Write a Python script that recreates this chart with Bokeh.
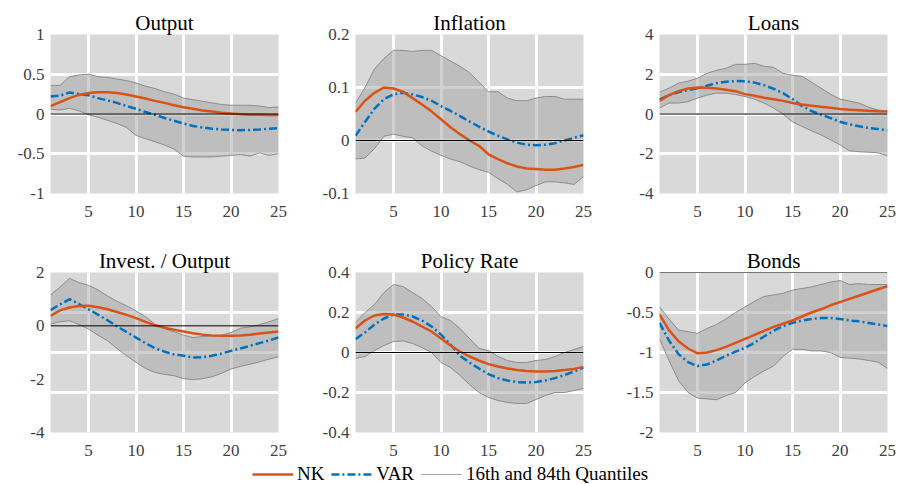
from bokeh.plotting import figure
from bokeh.models import FixedTicker, Span, Legend, LegendItem, Range1d
from bokeh.layouts import column, row
from bokeh.embed import file_html
from bokeh.resources import INLINE

# ---------------- data ----------------
horizon = list(range(1, 26))

titles = ["Output", "Inflation", "Loans", "Invest. / Output", "Policy Rate", "Bonds"]

nk_output = [0.10, 0.15, 0.20, 0.24, 0.265, 0.275, 0.275, 0.265, 0.245, 0.22, 0.195, 0.165, 0.14,
             0.11, 0.085, 0.065, 0.045, 0.03, 0.015, 0.005, -0.003, -0.008, -0.01, -0.012, -0.012]
var_output = [0.22, 0.23, 0.27, 0.25, 0.235, 0.20, 0.17, 0.14, 0.10, 0.065, 0.025, -0.01, -0.05,
              -0.085, -0.12, -0.15, -0.17, -0.185, -0.195, -0.20, -0.205, -0.20, -0.195, -0.185, -0.18]
hi_output = [0.36, 0.36, 0.47, 0.49, 0.50, 0.47, 0.46, 0.44, 0.42, 0.39, 0.35, 0.32, 0.28,
             0.25, 0.20, 0.18, 0.16, 0.14, 0.12, 0.11, 0.11, 0.11, 0.10, 0.08, 0.09]
lo_output = [0.06, 0.05, 0.07, 0.04, -0.01, -0.04, -0.08, -0.12, -0.17, -0.27, -0.31, -0.35, -0.39,
             -0.44, -0.53, -0.54, -0.54, -0.54, -0.53, -0.52, -0.51, -0.53, -0.49, -0.52, -0.50]

nk_infl = [0.054, 0.075, 0.09, 0.10, 0.098, 0.092, 0.08, 0.068, 0.055, 0.04, 0.025, 0.012, 0.0,
           -0.01, -0.026, -0.035, -0.043, -0.049, -0.053, -0.054, -0.055, -0.055, -0.053, -0.05, -0.046]
var_infl = [0.009, 0.035, 0.06, 0.078, 0.087, 0.09, 0.087, 0.082, 0.075, 0.065, 0.056, 0.046, 0.036,
            0.026, 0.017, 0.009, 0.002, -0.004, -0.008, -0.009, -0.008, -0.005, 0.0, 0.005, 0.01]
hi_infl = [0.07, 0.10, 0.135, 0.155, 0.17, 0.17, 0.168, 0.17, 0.17, 0.16, 0.15, 0.14, 0.128,
           0.11, 0.092, 0.092, 0.08, 0.075, 0.075, 0.08, 0.083, 0.083, 0.078, 0.078, 0.078]
lo_infl = [-0.035, -0.033, -0.015, 0.008, 0.012, 0.008, 0.005, -0.01, -0.02, -0.028, -0.035, -0.04,
           -0.048, -0.055, -0.06, -0.072, -0.083, -0.097, -0.093, -0.085, -0.078, -0.078, -0.08, -0.083, -0.068]

nk_loans = [0.66, 0.95, 1.15, 1.28, 1.33, 1.32, 1.28, 1.22, 1.15, 1.0, 0.92, 0.82, 0.74,
            0.66, 0.55, 0.48, 0.42, 0.36, 0.31, 0.25, 0.22, 0.19, 0.16, 0.14, 0.13]
var_loans = [0.72, 0.95, 1.1, 1.2, 1.3, 1.42, 1.55, 1.62, 1.66, 1.65, 1.58, 1.45, 1.27,
             1.05, 0.75, 0.4, 0.15, -0.03, -0.2, -0.39, -0.52, -0.62, -0.7, -0.75, -0.81]
hi_loans = [1.1, 1.3, 1.55, 1.65, 1.8, 2.05, 2.2, 2.3, 2.5, 2.5, 2.55, 2.4, 2.35,
            2.05, 1.95, 1.9, 1.6, 1.3, 1.0, 0.75, 0.65, 0.55, 0.35, 0.2, 0.15]
lo_loans = [0.3, 0.55, 0.55, 0.62, 0.8, 0.95, 1.05, 1.05, 0.98, 0.88, 0.75, 0.55, 0.3,
            0.0, -0.4, -0.62, -0.85, -1.05, -1.3, -1.55, -1.85, -1.9, -1.92, -1.95, -2.1]

nk_inv = [0.37, 0.58, 0.69, 0.74, 0.75, 0.70, 0.62, 0.52, 0.41, 0.29, 0.15, 0.02, -0.07,
          -0.15, -0.21, -0.28, -0.33, -0.36, -0.37, -0.37, -0.36, -0.33, -0.29, -0.25, -0.21]
var_inv = [0.59, 0.80, 1.0, 0.82, 0.62, 0.42, 0.21, -0.02, -0.23, -0.44, -0.65, -0.84, -0.97,
           -1.07, -1.12, -1.19, -1.18, -1.12, -1.04, -0.94, -0.85, -0.75, -0.65, -0.55, -0.44]
hi_inv = [1.16, 1.45, 1.78, 1.62, 1.52, 1.35, 1.12, 0.92, 0.75, 0.56, 0.34, 0.06, -0.10,
          -0.22, -0.35, -0.44, -0.40, -0.37, -0.35, -0.25, -0.09, -0.04, 0.05, 0.15, 0.27]
lo_inv = [0.06, 0.15, 0.19, 0.05, -0.12, -0.35, -0.56, -0.85, -1.12, -1.37, -1.60, -1.75, -1.82,
          -1.87, -1.98, -2.02, -1.98, -1.91, -1.78, -1.62, -1.52, -1.44, -1.35, -1.25, -1.16]

nk_rate = [0.12, 0.16, 0.185, 0.193, 0.19, 0.175, 0.155, 0.13, 0.105, 0.07, 0.035, 0.005, -0.02,
           -0.04, -0.058, -0.07, -0.08, -0.088, -0.093, -0.095, -0.095, -0.093, -0.088, -0.082, -0.072]
var_rate = [0.067, 0.10, 0.14, 0.17, 0.19, 0.19, 0.18, 0.16, 0.13, 0.09, 0.04, -0.017, -0.05,
            -0.08, -0.108, -0.128, -0.14, -0.148, -0.15, -0.148, -0.14, -0.128, -0.113, -0.095, -0.075]
hi_rate = [0.15, 0.20, 0.24, 0.30, 0.34, 0.33, 0.30, 0.27, 0.23, 0.18, 0.16, 0.12, 0.07,
           0.02, 0.01, -0.02, -0.04, -0.05, -0.05, -0.04, -0.035, -0.02, 0.0, 0.015, 0.03]
lo_rate = [-0.03, -0.02, 0.01, 0.035, 0.055, 0.058, 0.045, 0.025, 0.0, -0.05, -0.075, -0.115, -0.16,
           -0.2, -0.225, -0.24, -0.25, -0.255, -0.255, -0.235, -0.215, -0.2, -0.2, -0.19, -0.18]

nk_bonds = [-0.525, -0.72, -0.86, -0.95, -1.01, -1.0, -0.97, -0.93, -0.88, -0.83, -0.78, -0.73, -0.68,
            -0.64, -0.6, -0.55, -0.5, -0.46, -0.41, -0.37, -0.33, -0.29, -0.25, -0.21, -0.17]
var_bonds = [-0.63, -0.85, -1.02, -1.12, -1.17, -1.15, -1.1, -1.04, -0.99, -0.94, -0.88, -0.8, -0.73,
             -0.67, -0.63, -0.6, -0.58, -0.57, -0.57, -0.58, -0.6, -0.61, -0.63, -0.65, -0.67]
hi_bonds = [-0.43, -0.58, -0.72, -0.74, -0.76, -0.70, -0.65, -0.58, -0.50, -0.43, -0.36, -0.30, -0.28,
            -0.26, -0.22, -0.20, -0.18, -0.15, -0.12, -0.10, -0.15, -0.14, -0.15, -0.15, -0.15]
lo_bonds = [-0.83, -1.10, -1.35, -1.50, -1.57, -1.58, -1.59, -1.54, -1.50, -1.38, -1.30, -1.23, -1.17,
            -1.05, -0.96, -0.96, -0.98, -0.98, -1.0, -1.06, -1.07, -1.08, -1.10, -1.12, -1.20]

x_ticks = [5, 10, 15, 20, 25]
x_labels = ["5", "10", "15", "20", "25"]
x_grid = [5, 10, 15, 20]

y_ticks = [
    [-1, -0.5, 0, 0.5, 1],
    [-0.1, 0, 0.1, 0.2],
    [-4, -2, 0, 2, 4],
    [-4, -2, 0, 2],
    [-0.4, -0.2, 0, 0.2, 0.4],
    [-2, -1.5, -1, -0.5, 0],
]
y_labels = [
    ["-1", "-0.5", "0", "0.5", "1"],
    ["-0.1", "0", "0.1", "0.2"],
    ["-4", "-2", "0", "2", "4"],
    ["-4", "-2", "0", "2"],
    ["-0.4", "-0.2", "0", "0.2", "0.4"],
    ["-2", "-1.5", "-1", "-0.5", "0"],
]
y_grids = [
    [-0.5, 0, 0.5],
    [0, 0.1],
    [-2, 0, 2],
    [-2.5, -1, 0.5],
    [-0.2, 0, 0.2],
    [-1.5, -1, -0.5],
]

nk_all = [nk_output, nk_infl, nk_loans, nk_inv, nk_rate, nk_bonds]
var_all = [var_output, var_infl, var_loans, var_inv, var_rate, var_bonds]
hi_all = [hi_output, hi_infl, hi_loans, hi_inv, hi_rate, hi_bonds]
lo_all = [lo_output, lo_infl, lo_loans, lo_inv, lo_rate, lo_bonds]

legend_labels = ["NK", "VAR", "16th and 84th Quantiles"]

# ---------------- style ----------------
FONT = "Liberation Serif, Times New Roman, serif"
NK_COLOR = "#D95319"
VAR_COLOR = "#0072BD"
Q_COLOR = "#8c8c8c"
BAND_COLOR = "#a3a3a3"
BG = "#d9d9d9"
VAR_DASH = "8 3 2 3"

# (width, min_border_left, min_border_right)
col_geom = [(302, 50, 24), (298, 53, 17), (300, 59, 13)]
# (height, min_border_top, min_border_bottom)
row_geom = [(238, 34, 45), (226, 34, 32)]


def make_panel(i):
    w, bl, br = col_geom[i % 3]
    h, bt, bb = row_geom[i // 3]
    yt = y_ticks[i]
    p = figure(width=w, height=h, output_backend="svg", toolbar_location=None,
               x_range=Range1d(1, 25), y_range=Range1d(min(yt), max(yt)),
               min_border_left=bl, min_border_right=br,
               min_border_top=bt, min_border_bottom=bb,
               background_fill_color=BG, border_fill_color="white",
               outline_line_color=None)
    p.title.text = titles[i]
    p.title.align = "center"
    p.title.text_font = FONT
    p.title.text_font_size = "21px"
    p.title.text_font_style = "normal"
    p.title.text_color = "black"
    p.title.standoff = 0

    p.xgrid.ticker = FixedTicker(ticks=x_grid)
    p.ygrid.ticker = FixedTicker(ticks=y_grids[i])
    for g in (p.xgrid, p.ygrid):
        g.grid_line_color = "white"
        g.grid_line_width = 3

    p.xaxis.ticker = FixedTicker(ticks=x_ticks)
    p.xaxis.major_label_overrides = dict(zip(x_ticks, x_labels))
    p.yaxis.ticker = FixedTicker(ticks=yt)
    p.yaxis.major_label_overrides = dict(zip(yt, y_labels[i]))
    for ax in (p.xaxis, p.yaxis):
        ax.axis_line_color = None
        ax.major_tick_line_color = None
        ax.minor_tick_line_color = None
        ax.major_tick_out = 0
        ax.major_tick_in = 0
        ax.major_label_text_font = FONT
        ax.major_label_text_font_size = "17px"
        ax.major_label_text_font_style = "normal"
        ax.major_label_text_color = "#404040"
    p.xaxis.major_label_standoff = 12
    p.yaxis.major_label_standoff = 6

    p.varea(x=horizon, y1=lo_all[i], y2=hi_all[i], fill_color=BAND_COLOR, fill_alpha=0.5)
    p.line(horizon, hi_all[i], line_color=Q_COLOR, line_width=1)
    p.line(horizon, lo_all[i], line_color=Q_COLOR, line_width=1)
    p.add_layout(Span(location=0, dimension="width", line_color="black", line_width=1))
    p.line(horizon, var_all[i], line_color=VAR_COLOR, line_width=2.5, line_dash=VAR_DASH)
    p.line(horizon, nk_all[i], line_color=NK_COLOR, line_width=2.5)
    return p


figs = [make_panel(i) for i in range(6)]

# legend strip: proxy renderers drawn from the data but kept outside the visible range
lf = figure(width=900, height=20, output_backend="svg", toolbar_location=None,
            x_range=Range1d(100, 101), y_range=Range1d(100, 101),
            x_axis_type=None, y_axis_type=None,
            min_border=0, outline_line_color=None, background_fill_color=None,
            border_fill_color=None)
lf.xgrid.visible = False
lf.ygrid.visible = False
l_nk = lf.line(horizon, nk_output, line_color=NK_COLOR, line_width=2.5)
l_var = lf.line(horizon, var_output, line_color=VAR_COLOR, line_width=2.5, line_dash=VAR_DASH)
l_q = lf.line(horizon, hi_output, line_color="#a6a6a6", line_width=1)
legend = Legend(items=[LegendItem(label=legend_labels[0], renderers=[l_nk]),
                       LegendItem(label=legend_labels[1], renderers=[l_var]),
                       LegendItem(label=legend_labels[2], renderers=[l_q])],
                orientation="horizontal", location="center",
                border_line_color=None, background_fill_alpha=0,
                label_text_font=FONT, label_text_font_size="19px", label_text_color="black",
                glyph_width=41, glyph_height=18, label_standoff=4, spacing=7,
                padding=0, margin=0)
lf.add_layout(legend, "center")

layout = column(row(*figs[:3]), row(*figs[3:]), lf)

with open("out.html", "w") as f:
    f.write(file_html(layout, INLINE))
